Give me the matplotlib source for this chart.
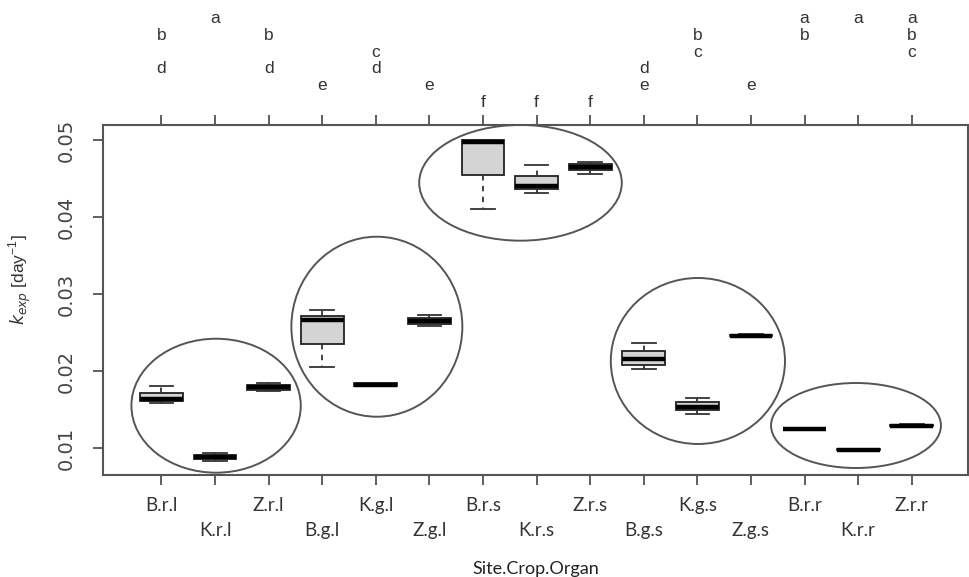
import matplotlib
matplotlib.use("Agg")
import matplotlib.pyplot as plt
from matplotlib.patches import Ellipse
import matplotlib.transforms as mtrans

# site.crop.organ groups
labels = ["B.r.l", "K.r.l", "Z.r.l", "B.g.l", "K.g.l", "Z.g.l",
          "B.r.s", "K.r.s", "Z.r.s", "B.g.s", "K.g.s", "Z.g.s",
          "B.r.r", "K.r.r", "Z.r.r"]
whislo = [0.0158, 0.0083, 0.01735, 0.0205, 0.0180, 0.0259,
          0.0411, 0.0431, 0.04555, 0.0202, 0.01446, 0.0244,
          0.0123, 0.0097, 0.0127]
q1 = [0.0161, 0.0086, 0.0175, 0.0235, 0.0181, 0.0261,
      0.04546, 0.04364, 0.04611, 0.0208, 0.0149, 0.0245,
      0.0124, 0.00975, 0.01285]
med = [0.0164, 0.0088, 0.0179, 0.02665, 0.0182, 0.02643,
       0.0497, 0.04403, 0.04654, 0.02155, 0.01533, 0.0246,
       0.01248, 0.0098, 0.0129]
q3 = [0.0171, 0.0091, 0.0182, 0.02717, 0.0184, 0.02687,
      0.0500, 0.04537, 0.04689, 0.02254, 0.01593, 0.0247,
      0.0125, 0.00985, 0.01295]
whishi = [0.0180, 0.0093, 0.01845, 0.02795, 0.0185, 0.0273,
          0.0500, 0.04676, 0.04719, 0.02363, 0.0165, 0.0248,
          0.0126, 0.0099, 0.0131]
letters = ["bd", "a", "bd", "e", "cd", "e", "f", "f", "f",
           "de", "bc", "e", "ab", "a", "abc"]

# ellipses around the organ groups: (x centre, y centre, width, height)
groups = [(2.02, 0.01549, 3.16, 0.0174),
          (5.02, 0.02575, 3.19, 0.02338),
          (7.70, 0.04444, 3.78, 0.01503),
          (11.01, 0.0213, 3.25, 0.02156),
          (13.96, 0.01292, 3.17, 0.01104)]

fig = plt.figure(figsize=(9.7, 5.77), dpi=100)
ax = fig.add_axes([103/970, 102/577, 865/970, 350/577])

stats = []
for i in range(len(labels)):
    stats.append(dict(label=labels[i], whislo=whislo[i], q1=q1[i], med=med[i],
                      q3=q3[i], whishi=whishi[i], fliers=[]))
pos = list(range(1, len(labels) + 1))
ax.bxp(stats, positions=pos, widths=0.8, patch_artist=True, showfliers=False,
       capwidths=0.44,
       boxprops=dict(facecolor="#d4d4d4", edgecolor="#222222", linewidth=1.3),
       medianprops=dict(color="black", linewidth=3.2, solid_capstyle="butt"),
       whiskerprops=dict(color="#333333", linestyle=(0, (3, 3)), linewidth=1.3),
       capprops=dict(color="#333333", linewidth=1.3))

for cx, cy, w, h in groups:
    ax.add_patch(Ellipse((cx, cy), w, h, fill=False, edgecolor="#555555",
                         linewidth=1.4, clip_on=False))

ax.set_xlim(-0.09, 16.05)
ax.set_ylim(0.00649, 0.05195)

# letters above the top ticks
tr = mtrans.blended_transform_factory(ax.transData, ax.transAxes)
rows = "abcdef"
for x, s in zip(pos, letters):
    for ch in s:
        ax.text(x, 1.303 - 0.0475 * rows.index(ch), ch, transform=tr,
                ha="center", va="center", fontsize=12.5, color="#333333",
                family="Liberation Sans")

ax.set_xticks(pos)
ax.set_xticklabels(labels, family="Lato", fontsize=13.5, color="#333333")
for k, t in enumerate(ax.xaxis.get_major_ticks()):
    t.set_pad(8 if k % 2 == 0 else 26)
ax.tick_params(axis="x", top=True, direction="out", length=7.5, width=1.2,
               color="#444444")
ax.set_yticks([0.01, 0.02, 0.03, 0.04, 0.05])
ax.set_yticklabels(["0.01", "0.02", "0.03", "0.04", "0.05"], rotation=90,
                   va="center", family="Liberation Sans Narrow", fontsize=14,
                   color="#444444")
ax.tick_params(axis="y", direction="out", length=7.5, width=1.2,
               color="#444444", pad=12)
for sp in ax.spines.values():
    sp.set_color("#555555")
    sp.set_linewidth(1.5)

ax.set_ylabel(r"$k_{exp}$ [day$^{\mathregular{-1}}$]", fontsize=12.5,
              color="#333333", family="Liberation Sans")
ax.yaxis.set_label_coords(-0.081, 0.557)
ax.set_xlabel("Site.Crop.Organ", family="Lato", fontsize=13, color="#222222",
              labelpad=16)

fig.savefig("out.png", dpi=100)
